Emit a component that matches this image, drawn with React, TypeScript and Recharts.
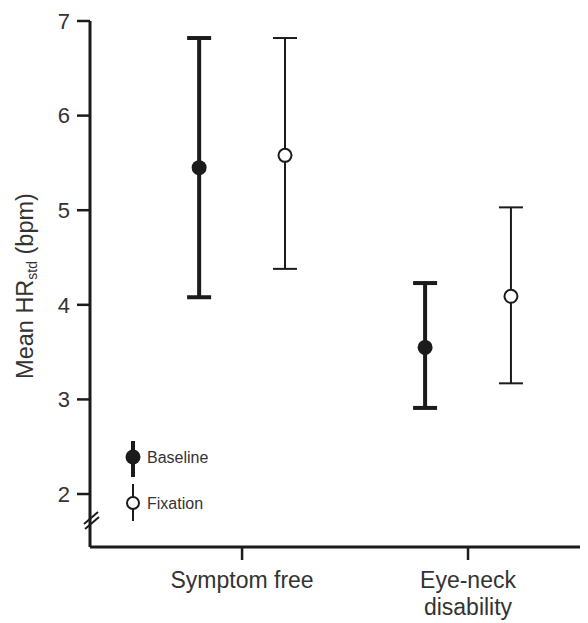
import React from 'react';
import { ComposedChart, Scatter, ErrorBar, XAxis, YAxis, Legend } from 'recharts';

const categories = ['Symptom free', 'Eye-neck\ndisability'];
const seriesNames = ['Baseline', 'Fixation'];
const baselineMean = [5.45, 3.55];
const baselineLow = [4.08, 2.91];
const baselineHigh = [6.82, 4.23];
const fixationMean = [5.58, 4.09];
const fixationLow = [4.38, 3.17];
const fixationHigh = [6.82, 5.03];
const yTicks = [2, 3, 4, 5, 6, 7];
const xTicks = [0, 1];

const DODGE = 0.19;
const INK = '#1b1b1b';
const TEXT = '#333';
const FONT = '"Liberation Sans", Arial, sans-serif';

const build = (means: number[], lows: number[], highs: number[], shift: number) =>
  categories.map((c, i) => ({
    x: i + shift,
    y: means[i],
    err: [means[i] - lows[i], highs[i] - means[i]],
  }));

const baselineData = build(baselineMean, baselineLow, baselineHigh, -DODGE);
const fixationData = build(fixationMean, fixationLow, fixationHigh, DODGE);

const FilledDot = (p: any) => <circle cx={p.cx} cy={p.cy} r={7.5} fill={INK} />;
const OpenDot = (p: any) => <circle cx={p.cx} cy={p.cy} r={6.5} fill="#fff" stroke={INK} strokeWidth={2} />;

const XTick = (p: any) => {
  const lines = categories[p.payload.value].split('\n');
  return (
    <text x={p.x} y={p.y} textAnchor="middle" fill={TEXT} fontSize={23} fontFamily={FONT}>
      {lines.map((l, i) => (
        <tspan key={i} x={p.x} dy={i === 0 ? '0.71em' : 27}>{l}</tspan>
      ))}
    </text>
  );
};

const YLabel = (p: any) => {
  const vb = p.viewBox || { x: 0, y: 0, width: 0, height: 0 };
  const cx = 25;
  const cy = vb.y + vb.height / 2 + 2;
  return (
    <text x={cx} y={cy} transform={`rotate(-90, ${cx}, ${cy})`} textAnchor="middle" fill={TEXT} fontSize={23.5} fontFamily={FONT}>
      Mean HR<tspan fontSize={14} dy={4}>std</tspan><tspan dy={-4}> (bpm)</tspan>
    </text>
  );
};

const LegendContent = () => (
  <svg width={120} height={90} style={{ display: 'block' }}>
    <line x1={13} y1={3} x2={13} y2={39} stroke={INK} strokeWidth={4} />
    <circle cx={13} cy={19} r={7.5} fill={INK} />
    <text x={27} y={25} fontSize={16} fill={TEXT} fontFamily={FONT}>{seriesNames[0]}</text>
    <line x1={13} y1={46} x2={13} y2={83} stroke={INK} strokeWidth={2} />
    <circle cx={13} cy={65} r={6} fill="#fff" stroke={INK} strokeWidth={2} />
    <text x={27} y={71} fontSize={16} fill={TEXT} fontFamily={FONT}>{seriesNames[1]}</text>
  </svg>
);

export default function App() {
  return (
    <div style={{ position: 'relative', width: 580, height: 615, fontFamily: FONT }}>
      <ComposedChart width={580} height={615} margin={{ top: 13, right: 0, bottom: 0, left: 0 }}>
        <XAxis
          type="number"
          dataKey="x"
          domain={[-0.673, 1.531]}
          ticks={xTicks}
          allowDataOverflow
          height={76}
          tickSize={13}
          tickMargin={12}
          axisLine={{ stroke: INK, strokeWidth: 3 }}
          tickLine={{ stroke: INK, strokeWidth: 2.5 }}
          tick={<XTick />}
          interval={0}
        />
        <YAxis
          type="number"
          dataKey="y"
          domain={[1.44, 7]}
          ticks={yTicks}
          allowDataOverflow
          width={82}
          tickSize={13}
          tickMargin={7}
          axisLine={{ stroke: INK, strokeWidth: 3 }}
          tickLine={{ stroke: INK, strokeWidth: 2.5 }}
          tick={{ fill: TEXT, fontSize: 22, fontFamily: FONT }}
          label={<YLabel />}
          interval={0}
        />
        <Legend
          layout="vertical"
          align="center"
          verticalAlign="middle"
          content={<LegendContent />}
          wrapperStyle={{ left: 112, top: 430, width: 120, height: 90 }}
        />
        <Scatter name={seriesNames[0]} data={baselineData} shape={<FilledDot />} isAnimationActive={false}>
          <ErrorBar dataKey="err" direction="y" width={12} stroke={INK} strokeWidth={4} isAnimationActive={false} />
        </Scatter>
        <Scatter name={seriesNames[1]} data={fixationData} shape={<OpenDot />} isAnimationActive={false}>
          <ErrorBar dataKey="err" direction="y" width={12} stroke={INK} strokeWidth={2} isAnimationActive={false} />
        </Scatter>
      </ComposedChart>
      <svg width={30} height={30} style={{ position: 'absolute', left: 70, top: 496, pointerEvents: 'none' }}>
        <line x1={6} y1={20} x2={20} y2={8} stroke={INK} strokeWidth={2} />
        <line x1={7} y1={25} x2={21} y2={13} stroke={INK} strokeWidth={2} />
      </svg>
    </div>
  );
}
